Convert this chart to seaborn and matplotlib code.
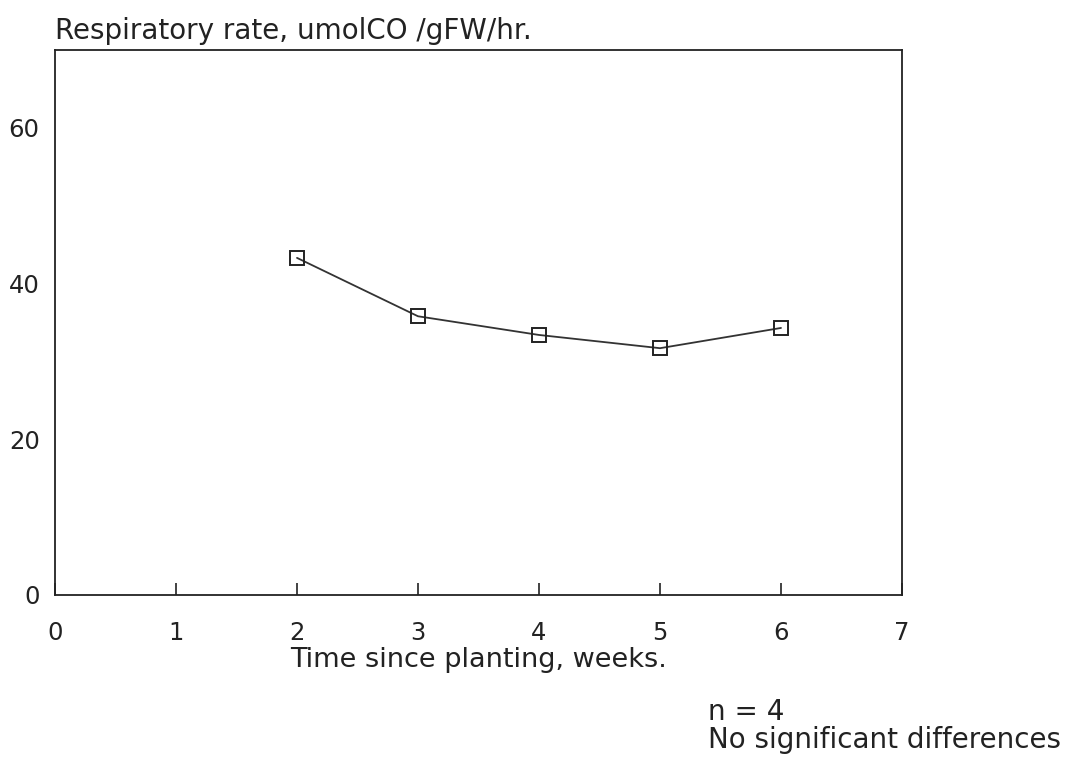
import matplotlib
matplotlib.use("Agg")
import matplotlib.pyplot as plt
import seaborn as sns
import pandas as pd

weeks = [2, 3, 4, 5, 6]
resp_rate = [43.3, 35.8, 33.4, 31.7, 34.3]
x_ticks = [0, 1, 2, 3, 4, 5, 6, 7]
y_ticks = [0, 20, 40, 60]

sns.set_theme(style="white")
plt.rcParams['font.family'] = ['DejaVu Sans']

df = pd.DataFrame({"week": weeks, "rate": resp_rate})

fig = plt.figure(figsize=(10.79, 7.58), dpi=100)
ax = fig.add_axes([55/1079, 1 - 595/758, (902-55)/1079, (595-50)/758])

sns.lineplot(data=df, x="week", y="rate", ax=ax, color="#333333", linewidth=1.3,
             marker="s", markersize=10, markerfacecolor="none",
             markeredgecolor="#222222", markeredgewidth=1.4)

ax.set_xlim(0, 7)
ax.set_ylim(0, 70)
ax.set_xticks(x_ticks)
ax.set_yticks(y_ticks)
ax.tick_params(axis='x', bottom=True, direction='in', length=9, width=1.2, color="#222222",
               labelsize=17.5, pad=19, labelcolor="#222222")
ax.tick_params(axis='y', left=True, length=0, labelsize=17.5, pad=11, labelcolor="#222222")
for s in ax.spines.values():
    s.set_linewidth(1.3)
    s.set_color("#222222")

ax.set_xlabel("Time since planting, weeks.", fontsize=19.5, color="#222222", labelpad=1)
ax.set_ylabel("")
ax.set_title("Respiratory rate, umolCO /gFW/hr.", loc="left", fontsize=20,
             color="#222222", pad=8)

fig.text(708/1079, 1 - 712/758, "n = 4", fontsize=20, color="#222222", va="center")
fig.text(708/1079, 1 - 740/758, "No significant differences", fontsize=20,
         color="#222222", va="center")

fig.savefig("out.png", dpi=100, facecolor="white")
